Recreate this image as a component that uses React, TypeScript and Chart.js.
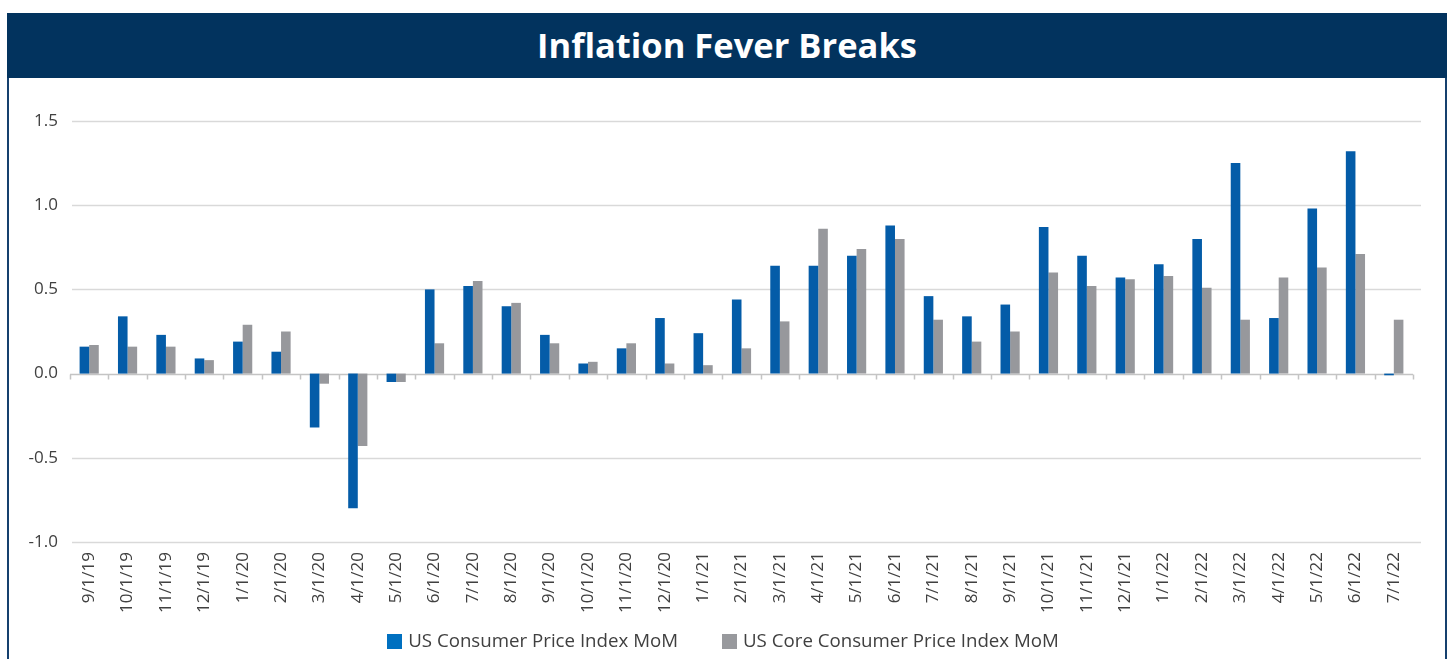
import React, { useEffect, useRef } from "react";
import { Chart, registerables } from "chart.js";

Chart.register(...registerables);

const TITLE = "Inflation Fever Breaks";
const CATEGORIES = [
  "9/1/19", "10/1/19", "11/1/19", "12/1/19", "1/1/20", "2/1/20", "3/1/20", "4/1/20", "5/1/20",
  "6/1/20", "7/1/20", "8/1/20", "9/1/20", "10/1/20", "11/1/20", "12/1/20", "1/1/21", "2/1/21",
  "3/1/21", "4/1/21", "5/1/21", "6/1/21", "7/1/21", "8/1/21", "9/1/21", "10/1/21", "11/1/21",
  "12/1/21", "1/1/22", "2/1/22", "3/1/22", "4/1/22", "5/1/22", "6/1/22", "7/1/22",
];
const SERIES_NAMES = ["US Consumer Price Index MoM", "US Core Consumer Price Index MoM"];
const CPI_MOM = [
  0.16, 0.34, 0.23, 0.09, 0.19, 0.13, -0.32, -0.8, -0.05, 0.5, 0.52, 0.4, 0.23, 0.06, 0.15,
  0.33, 0.24, 0.44, 0.64, 0.64, 0.7, 0.88, 0.46, 0.34, 0.41, 0.87, 0.7, 0.57, 0.65, 0.8, 1.25,
  0.33, 0.98, 1.32, -0.01,
];
const CORE_CPI_MOM = [
  0.17, 0.16, 0.16, 0.08, 0.29, 0.25, -0.06, -0.43, -0.05, 0.18, 0.55, 0.42, 0.18, 0.07, 0.18,
  0.06, 0.05, 0.15, 0.31, 0.86, 0.74, 0.8, 0.32, 0.19, 0.25, 0.6, 0.52, 0.56, 0.58, 0.51, 0.32,
  0.57, 0.63, 0.71, 0.32,
];
const Y_MIN = -1.0;
const Y_MAX = 1.5;
const Y_STEP = 0.5;

const BAR_COLORS = ["#045ca8", "#97989c"];
const LEGEND_COLORS = ["#0070c0", "#98999d"];
const FONT = "'Open Sans', 'Noto Sans', sans-serif";

const axisPlugin = {
  id: "excelAxis",
  beforeDatasetsDraw(chart: any) {
    const x = chart.scales.x;
    const y = chart.scales.y;
    const ctx = chart.ctx;
    ctx.save();
    ctx.strokeStyle = "#d9d9d9";
    ctx.lineWidth = 1.5;
    ctx.beginPath();
    y.ticks.forEach((t: any) => {
      if (t.value === 0) return;
      const py = Math.round(y.getPixelForValue(t.value)) + 0.5;
      ctx.moveTo(x.left + 2, py);
      ctx.lineTo(x.right + 8, py);
    });
    ctx.stroke();
    const y0 = Math.round(y.getPixelForValue(0)) + 0.5;
    const n = chart.data.labels.length;
    const w = (x.right - x.left) / n;
    ctx.strokeStyle = "#c4c4c4";
    ctx.beginPath();
    ctx.moveTo(x.left, y0);
    ctx.lineTo(x.right, y0);
    for (let i = 0; i <= n; i++) {
      const px = Math.round(x.left + i * w) + 0.5;
      ctx.moveTo(px, y0);
      ctx.lineTo(px, y0 + 5);
    }
    ctx.stroke();
    ctx.restore();
  },
};

// Legend drawn on the canvas with Excel-like spacing
const legendPlugin = {
  id: "excelLegend",
  afterDraw(chart: any) {
    const ctx = chart.ctx;
    const box = 15;
    const textGap = 6;
    const itemGap = 44;
    ctx.save();
    ctx.font = `18.7px ${FONT}`;
    const items = chart.data.datasets.map((d: any, i: number) => ({
      text: d.label,
      color: LEGEND_COLORS[i],
      w: box + textGap + ctx.measureText(d.label).width,
    }));
    const total = items.reduce((s: number, it: any) => s + it.w, 0) + itemGap * (items.length - 1);
    let cx = chart.width / 2 - 4 - total / 2;
    const cy = chart.height - 18;
    ctx.textBaseline = "middle";
    ctx.textAlign = "left";
    items.forEach((it: any) => {
      ctx.fillStyle = it.color;
      ctx.fillRect(Math.round(cx), Math.round(cy - box / 2), box, box);
      ctx.fillStyle = "#404040";
      ctx.fillText(it.text, cx + box + textGap, cy + 1);
      cx += it.w + itemGap;
    });
    ctx.restore();
  },
};

function ChartCanvas() {
  const ref = useRef<HTMLCanvasElement | null>(null);
  useEffect(() => {
    if (!ref.current) return;
    const chart = new Chart(ref.current, {
      type: "bar",
      data: {
        labels: CATEGORIES,
        datasets: [
          {
            label: SERIES_NAMES[0],
            data: CPI_MOM,
            backgroundColor: BAR_COLORS[0],
            categoryPercentage: 0.5,
            barPercentage: 1.0,
          },
          {
            label: SERIES_NAMES[1],
            data: CORE_CPI_MOM,
            backgroundColor: BAR_COLORS[1],
            categoryPercentage: 0.5,
            barPercentage: 1.0,
          },
        ],
      },
      options: {
        responsive: false,
        animation: false,
        layout: { padding: { top: 43, right: 32, left: 0, bottom: 37 } },
        plugins: {
          title: { display: false },
          tooltip: { enabled: false },
          legend: { display: false },
        },
        scales: {
          x: {
            grid: { display: false, drawTicks: false },
            border: { display: false },
            ticks: {
              minRotation: 90,
              maxRotation: 90,
              autoSkip: false,
              padding: 10,
              color: "#404040",
              font: { family: FONT, size: 17 },
            },
            afterFit: (s: any) => {
              s.height = 80;
            },
          },
          y: {
            min: Y_MIN,
            max: Y_MAX,
            grid: { display: false, drawTicks: false },
            border: { display: false },
            ticks: {
              stepSize: Y_STEP,
              padding: 12,
              color: "#404040",
              font: { family: FONT, size: 17 },
              callback: (v: any) => Number(v).toFixed(1),
            },
            afterFit: (s: any) => {
              s.width = 61;
            },
          },
        },
      },
      plugins: [axisPlugin, legendPlugin],
    });
    return () => chart.destroy();
  }, []);
  return <canvas ref={ref} width={1436} height={581} style={{ display: "block", width: 1436, height: 581 }} />;
}

export default function App() {
  return (
    <div style={{ position: "absolute", left: 7, top: 13, width: 1440, fontFamily: FONT }}>
      <div
        style={{
          height: 65,
          background: "#02335e",
          color: "#ffffff",
          fontWeight: 700,
          fontSize: 34.5,
          display: "flex",
          alignItems: "center",
          justifyContent: "center",
          paddingBottom: 3,
          boxSizing: "border-box",
        }}
      >
        {TITLE}
      </div>
      <div style={{ borderLeft: "2px solid #15406e", borderRight: "2px solid #15406e", height: 600, background: "#fff" }}>
        <ChartCanvas />
      </div>
    </div>
  );
}
